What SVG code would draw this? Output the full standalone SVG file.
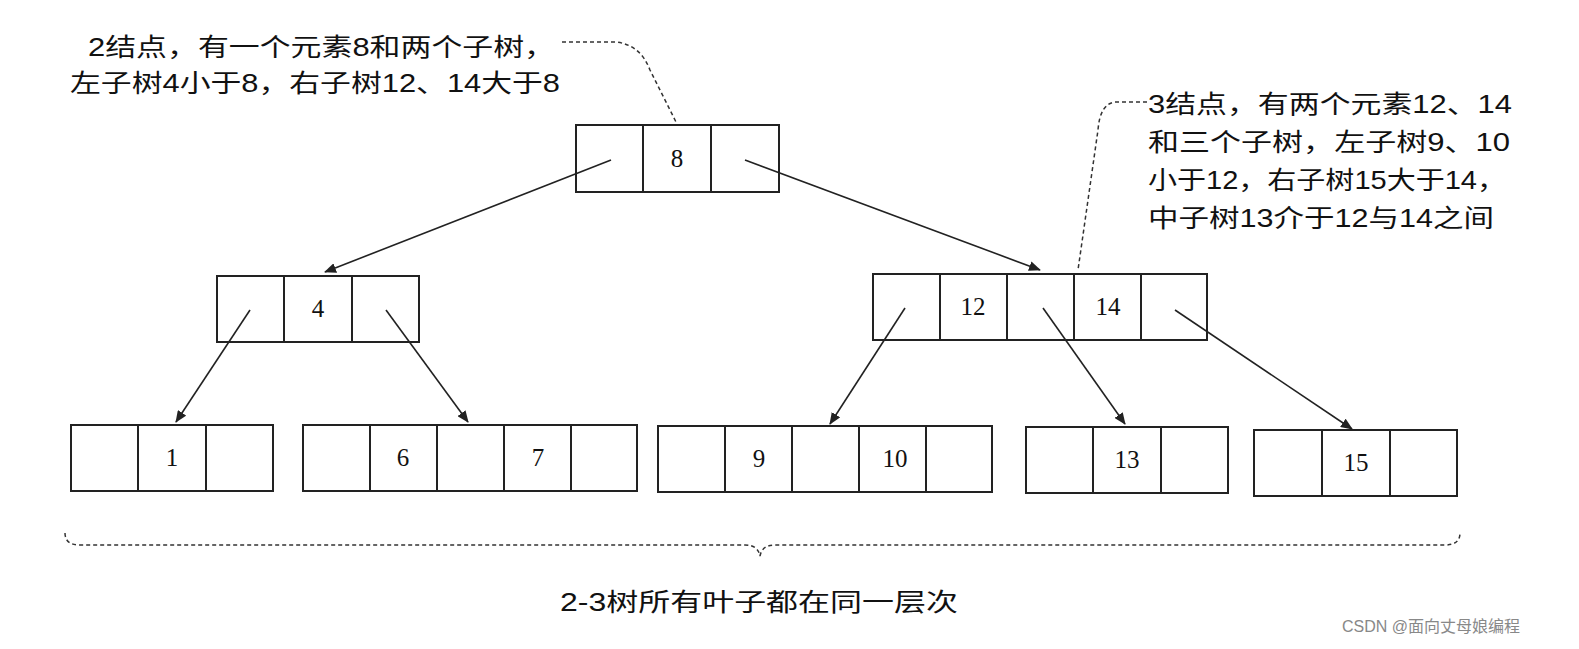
<svg xmlns="http://www.w3.org/2000/svg" width="1579" height="649" viewBox="0 0 1579 649">
<style>
.c{fill:#fff;stroke:#222;stroke-width:2}
.t{font-family:"Liberation Serif","Noto Sans CJK SC",serif;font-size:25px;fill:#111;text-anchor:middle}
.l{font-family:"Liberation Sans","Noto Sans CJK SC",sans-serif;font-size:25px;fill:#111}
.a{stroke:#222;stroke-width:1.6;fill:none;marker-end:url(#ar)}
.d{stroke:#333;stroke-width:1.5;fill:none;stroke-dasharray:4 3}
</style>
<defs><marker id="ar" markerWidth="12" markerHeight="10" refX="11" refY="5" orient="auto" markerUnits="userSpaceOnUse"><path d="M0,0 L12,5 L0,10 Z" fill="#222"/></marker></defs>
<rect width="1579" height="649" fill="#fff"/>
<g id="root"><rect class="c" x="576" y="125" width="67" height="67"/><rect class="c" x="643" y="125" width="68" height="67"/><rect class="c" x="711" y="125" width="68" height="67"/><text class="t" x="677" y="167">8</text></g>
<g id="n4"><rect class="c" x="217" y="276" width="67" height="66"/><rect class="c" x="284" y="276" width="68" height="66"/><rect class="c" x="352" y="276" width="67" height="66"/><text class="t" x="318" y="317">4</text></g>
<g id="n1214"><rect class="c" x="873" y="274" width="67" height="66"/><rect class="c" x="940" y="274" width="67" height="66"/><rect class="c" x="1007" y="274" width="67" height="66"/><rect class="c" x="1074" y="274" width="67" height="66"/><rect class="c" x="1141" y="274" width="66" height="66"/><text class="t" x="973" y="315">12</text><text class="t" x="1108" y="315">14</text></g>
<g id="l1"><rect class="c" x="71" y="425" width="67" height="66"/><rect class="c" x="138" y="425" width="68" height="66"/><rect class="c" x="206" y="425" width="67" height="66"/><text class="t" x="172" y="466">1</text></g>
<g id="l67"><rect class="c" x="303" y="425" width="67" height="66"/><rect class="c" x="370" y="425" width="67" height="66"/><rect class="c" x="437" y="425" width="67" height="66"/><rect class="c" x="504" y="425" width="67" height="66"/><rect class="c" x="571" y="425" width="66" height="66"/><text class="t" x="403" y="466">6</text><text class="t" x="538" y="466">7</text></g>
<g id="l910"><rect class="c" x="658" y="426" width="67" height="66"/><rect class="c" x="725" y="426" width="67" height="66"/><rect class="c" x="792" y="426" width="67" height="66"/><rect class="c" x="859" y="426" width="67" height="66"/><rect class="c" x="926" y="426" width="66" height="66"/><text class="t" x="759" y="467">9</text><text class="t" x="895" y="467">10</text></g>
<g id="l13"><rect class="c" x="1026" y="427" width="67" height="66"/><rect class="c" x="1093" y="427" width="68" height="66"/><rect class="c" x="1161" y="427" width="67" height="66"/><text class="t" x="1127" y="468">13</text></g>
<g id="l15"><rect class="c" x="1254" y="430" width="68" height="66"/><rect class="c" x="1322" y="430" width="68" height="66"/><rect class="c" x="1390" y="430" width="67" height="66"/><text class="t" x="1356" y="471">15</text></g>
<g id="connectors">
<line class="a" x1="611" y1="160" x2="325" y2="272"/>
<line class="a" x1="745" y1="160" x2="1040" y2="270"/>
<line class="a" x1="250" y1="310" x2="176" y2="422"/>
<line class="a" x1="386" y1="310" x2="468" y2="422"/>
<line class="a" x1="905" y1="308" x2="830" y2="424"/>
<line class="a" x1="1043" y1="308" x2="1125" y2="424"/>
<line class="a" x1="1175" y1="310" x2="1352" y2="429"/>
<path class="d" d="M562,42 L615,42 Q640,44 650,70 L676,122"/>
<path class="d" d="M1147,102 L1115,102 Q1100,104 1098,130 L1078,270"/>
<path class="d" d="M65,533 Q65,545 80,545 L745,545 Q758,545 760,556 Q762,545 775,545 L1445,545 Q1460,545 1460,533"/>
</g>
<text class="l" x="88" y="56" textLength="467" lengthAdjust="spacingAndGlyphs">2结点，有一个元素8和两个子树，</text>
<text class="l" x="70" y="92" textLength="490" lengthAdjust="spacingAndGlyphs">左子树4小于8，右子树12、14大于8</text>
<text class="l" x="1148" y="113" textLength="364" lengthAdjust="spacingAndGlyphs">3结点，有两个元素12、14</text>
<text class="l" x="1148" y="151" textLength="362" lengthAdjust="spacingAndGlyphs">和三个子树，左子树9、10</text>
<text class="l" x="1148" y="189" textLength="358" lengthAdjust="spacingAndGlyphs">小于12，右子树15大于14，</text>
<text class="l" x="1148" y="227" textLength="346" lengthAdjust="spacingAndGlyphs">中子树13介于12与14之间</text>
<text class="l" x="560" y="611" textLength="398" lengthAdjust="spacingAndGlyphs">2-3树所有叶子都在同一层次</text>
<text class="l" x="1342" y="632" style="font-size:16px;fill:#888">CSDN @面向丈母娘编程</text>
</svg>
